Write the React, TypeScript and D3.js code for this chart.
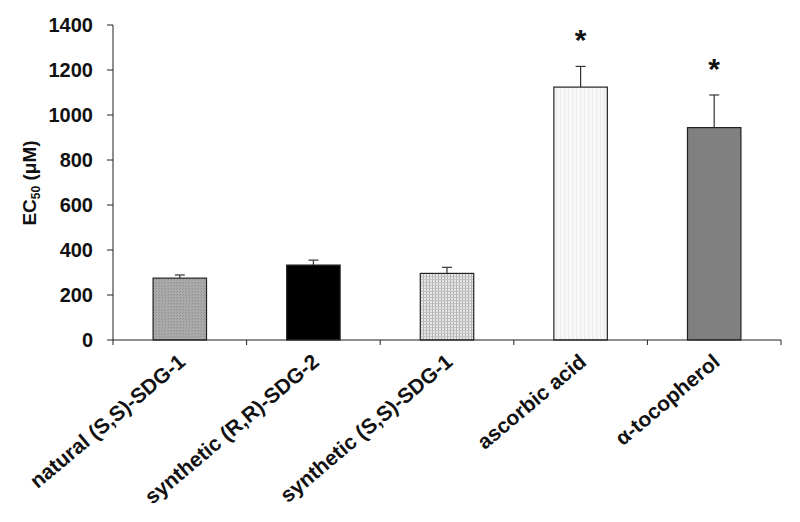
import React from "react";
import * as d3 from "d3";

const categories = [
  "natural (S,S)-SDG-1",
  "synthetic (R,R)-SDG-2",
  "synthetic (S,S)-SDG-1",
  "ascorbic acid",
  "α-tocopherol",
];
const values = [275, 333, 296, 1124, 944];
const errors = [14, 22, 27, 92, 145];
const significant = [false, false, false, true, true];
const yTicks = [0, 200, 400, 600, 800, 1000, 1200, 1400];
const fills = ["url(#p1)", "#000000", "url(#p3)", "url(#p4)", "#808080"];

const W = 800;
const H = 522;
const left = 113;
const right = 781;
const top = 25;
const bottom = 340;

export default function App() {
  const x = d3.scaleBand<string>().domain(categories).range([left, right]).paddingInner(0).paddingOuter(0);
  const y = d3.scaleLinear().domain([0, 1400]).range([bottom, top]);
  const bw = x.bandwidth() * 0.4;
  const font = "'Liberation Sans', Arial, sans-serif";
  const bounds = [...categories.map((c) => x(c) as number), right];

  return (
    <svg
      width={W}
      height={H}
      style={{ position: "absolute", left: 0, top: 0, background: "#fff" }}
      fontFamily={font}
    >
      <defs>
        <pattern id="p1" width="3" height="3" patternUnits="userSpaceOnUse">
          <rect width="3" height="3" fill="#ababab" />
          <rect width="1" height="1" fill="#8c8c8c" />
          <rect x="2" y="1" width="1" height="1" fill="#989898" />
        </pattern>
        <pattern id="p3" width="3" height="3" patternUnits="userSpaceOnUse">
          <rect width="3" height="3" fill="#e6e6e6" />
          <rect width="1" height="3" fill="#b0b0b0" />
          <rect width="3" height="1" fill="#c2c2c2" />
        </pattern>
        <pattern id="p4" width="4" height="4" patternUnits="userSpaceOnUse">
          <rect width="4" height="4" fill="#f7f7f7" />
          <rect width="1" height="4" fill="#ececec" />
        </pattern>
      </defs>

      {/* bars */}
      {categories.map((c, i) => {
        const cx = (x(c) as number) + x.bandwidth() / 2;
        const yt = y(values[i]);
        const ye = y(values[i] + errors[i]);
        return (
          <g key={c}>
            <rect
              x={cx - bw / 2}
              y={yt}
              width={bw}
              height={bottom - yt}
              fill={fills[i]}
              stroke="#222"
              strokeWidth={1.2}
            />
            <line x1={cx} x2={cx} y1={yt} y2={ye} stroke="#333" strokeWidth={1.2} />
            <line x1={cx - 5} x2={cx + 5} y1={ye} y2={ye} stroke="#333" strokeWidth={1.2} />
            {significant[i] && (
              <text
                x={cx}
                y={ye - 16}
                textAnchor="middle"
                fontSize={30}
                fontWeight="bold"
                fill="#111"
              >
                *
              </text>
            )}
          </g>
        );
      })}

      {/* y axis */}
      <line x1={left} x2={left} y1={top} y2={bottom} stroke="#222" strokeWidth={1} />
      {yTicks.map((t) => (
        <g key={t}>
          <line x1={left - 6} x2={left} y1={y(t)} y2={y(t)} stroke="#222" strokeWidth={1} />
          <text
            x={left - 20}
            y={y(t)}
            dy="0.36em"
            textAnchor="end"
            fontSize={20}
            fontWeight="bold"
            fill="#111"
          >
            {t}
          </text>
        </g>
      ))}
      <text
        transform={`translate(36,183) rotate(-90)`}
        textAnchor="middle"
        fontSize={19}
        fontWeight="bold"
        fill="#111"
      >
        EC
        <tspan fontSize={12} dy="4">50</tspan>
        <tspan dy="-4"> (μM)</tspan>
      </text>

      {/* x axis */}
      <line x1={left} x2={right} y1={bottom} y2={bottom} stroke="#222" strokeWidth={1} />
      {bounds.map((b, i) => (
        <line key={i} x1={b} x2={b} y1={bottom} y2={bottom + 5} stroke="#222" strokeWidth={1} />
      ))}
      {categories.map((c) => {
        const cx = (x(c) as number) + x.bandwidth() / 2;
        return (
          <text
            key={c}
            transform={`translate(${cx + 7},${bottom + 24}) rotate(-40)`}
            textAnchor="end"
            fontSize={21}
            fontWeight="bold"
            fill="#111"
          >
            {c}
          </text>
        );
      })}
    </svg>
  );
}
